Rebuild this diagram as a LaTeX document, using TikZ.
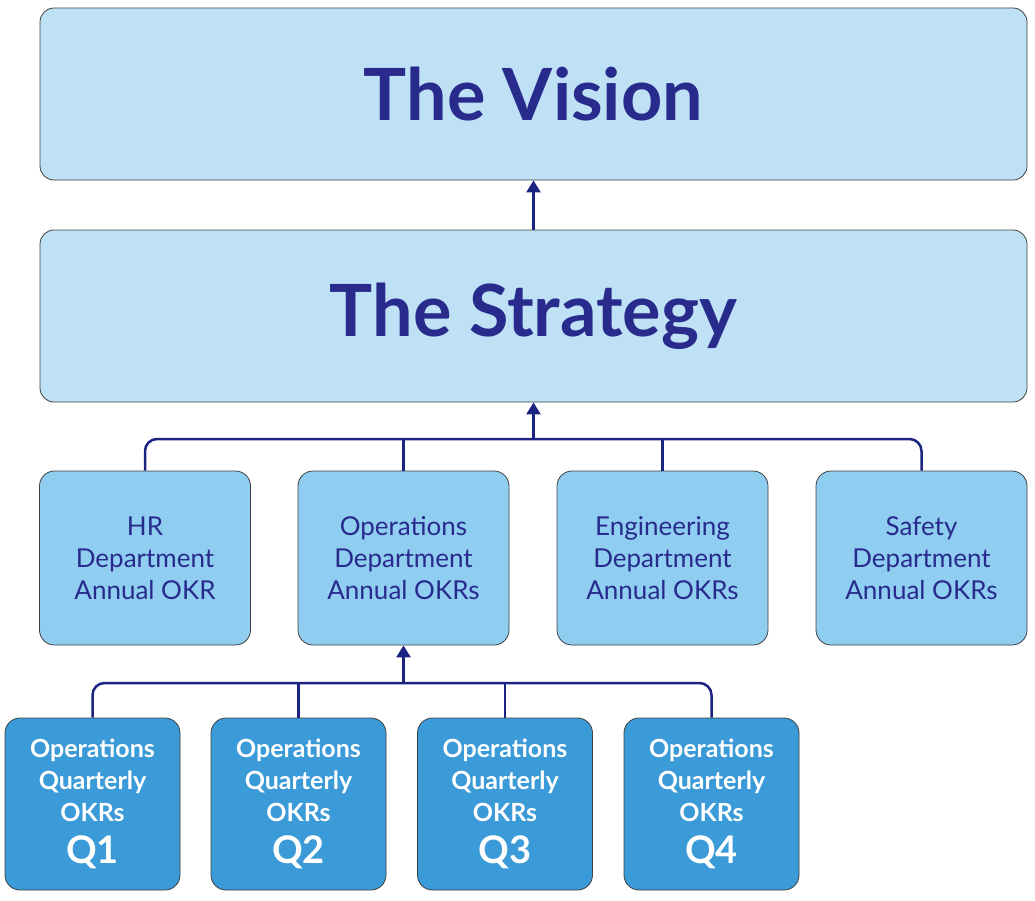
\documentclass[tikz,border=0pt]{standalone}
\usepackage{fontspec}
\setmainfont{Lato}
\usetikzlibrary{arrows.meta,positioning,calc}
\definecolor{okrnavy}{RGB}{40,42,140}
\definecolor{okrline}{RGB}{28,36,130}
\definecolor{okrpale}{RGB}{190,225,246}
\definecolor{okrmid}{RGB}{143,205,241}
\definecolor{okrdeep}{RGB}{58,155,216}
\tikzset{
  topbox/.style={draw=black!75, line width=0.8pt, fill=okrpale, rounded corners=14pt,
    minimum width=987pt, minimum height=172pt, text=okrnavy,
    font=\fontsize{72}{80}\selectfont\bfseries},
  deptbox/.style={draw=black!75, line width=0.8pt, fill=okrmid, rounded corners=15pt,
    minimum width=211pt, minimum height=174pt, text=okrnavy, align=center,
    font=\fontsize{26}{32}\selectfont},
  qbox/.style={draw=black!75, line width=0.8pt, fill=okrdeep, rounded corners=15pt,
    minimum width=175pt, minimum height=172pt, text=white, align=center,
    font=\fontsize{25}{32}\selectfont\bfseries},
  busline/.style={draw=okrline, line width=2.5pt, rounded corners=12pt},
  uparrow/.style={draw=okrline, line width=2.5pt, -{Triangle[width=14pt,length=12pt]}}
}
\newcommand{\qlabel}[1]{{\fontsize{38}{40}\selectfont #1}}
\begin{document}
\begin{tikzpicture}[x=1pt,y=-1pt]
  \useasboundingbox (0,0) rectangle (1035,900);

  % Draw vision and strategy
  \node[topbox] (vision) at (533.5,94) {The Vision};
  \node[topbox] (strategy) at (533.5,316) {The Strategy};
  \draw[uparrow] (strategy.north) -- (vision.south);

  % Draw department OKRs
  \node[deptbox] (hr) at (145,558) {HR\\Department\\Annual OKR};
  \node[deptbox] (ops) at (403.5,558) {Operations\\Department\\Annual OKRs};
  \node[deptbox] (eng) at (662.5,558) {Engineering\\Department\\Annual OKRs};
  \node[deptbox] (safety) at (921.5,558) {Safety\\Department\\Annual OKRs};

  % Draw department bus
  \coordinate (deptbus) at (533.5,439);
  \draw[busline] (hr.north) |- (deptbus) -| (safety.north);
  \draw[busline] (ops.north) -- (ops.north |- deptbus);
  \draw[busline] (eng.north) -- (eng.north |- deptbus);
  \draw[uparrow] (deptbus) -- (strategy.south);

  % Draw quarterly OKRs
  \node[qbox] (q1) at (92.5,804) {Operations\\Quarterly\\OKRs\\[10pt]\qlabel{Q1}};
  \node[qbox] (q2) at (298.5,804) {Operations\\Quarterly\\OKRs\\[10pt]\qlabel{Q2}};
  \node[qbox] (q3) at (505,804) {Operations\\Quarterly\\OKRs\\[10pt]\qlabel{Q3}};
  \node[qbox] (q4) at (711.5,804) {Operations\\Quarterly\\OKRs\\[10pt]\qlabel{Q4}};

  % Draw quarterly bus
  \coordinate (qbus) at (403.5,683);
  \draw[busline] (q1.north) |- (qbus) -| (q4.north);
  \draw[busline] (q2.north) -- (q2.north |- qbus);
  \draw[busline] (q3.north) -- (q3.north |- qbus);
  \draw[uparrow] (qbus) -- (ops.south);
\end{tikzpicture}
\end{document}
